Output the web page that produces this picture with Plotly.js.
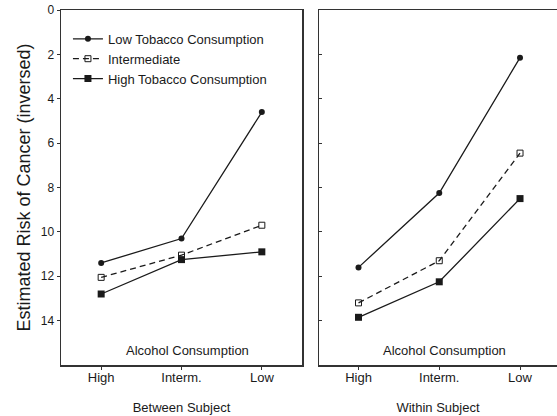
<!DOCTYPE html>
<html>
<head>
<meta charset="utf-8">
<script src="https://cdn.plot.ly/plotly-3.0.1.min.js"></script>
<style>
  html, body { margin: 0; padding: 0; background: #fff; }
  #chart { width: 557px; height: 416px; }
</style>
</head>
<body>
<div id="chart"></div>
<script>
// Alcohol consumption levels on the x axis
const categories = ['High', 'Interm.', 'Low'];

// Between-subject estimates (inverted risk scale)
const betweenLowTobacco = [11.4, 10.3, 4.6];
const betweenMidTobacco = [12.05, 11.05, 9.7];
const betweenHighTobacco = [12.8, 11.25, 10.9];

// Within-subject estimates
const withinLowTobacco = [11.6, 8.25, 2.15];
const withinMidTobacco = [13.2, 11.3, 6.45];
const withinHighTobacco = [13.85, 12.25, 8.5];

const seriesNames = ['Low Tobacco Consumption', 'Intermediate', 'High Tobacco Consumption'];
const yTickValues = [0, 2, 4, 6, 8, 10, 12, 14];
const panelTitles = ['Between Subject', 'Within Subject'];
const innerLabel = 'Alcohol Consumption';
const yTitle = 'Estimated Risk of Cancer (inversed)';

const FONT = 'Liberation Sans, Arial, sans-serif';
const INK = '#1a1a1a';
const AXIS = '#333333';

const styles = [
  { line: { color: INK, width: 1.3 }, marker: { symbol: 'circle', size: 6, color: INK } },
  { line: { color: INK, width: 1.3, dash: '6px,4px' },
    marker: { symbol: 'square-open', size: 6, color: INK, line: { width: 1, color: INK } } },
  { line: { color: INK, width: 1.3 }, marker: { symbol: 'square', size: 7, color: INK } }
];

function makeTraces(values, xa, ya, showLegend) {
  return values.map((v, i) => ({
    type: 'scatter', mode: 'lines+markers',
    x: categories, y: v, xaxis: xa, yaxis: ya,
    name: seriesNames[i], showlegend: showLegend,
    line: styles[i].line, marker: styles[i].marker,
    hoverinfo: 'skip'
  }));
}

const data = [
  ...makeTraces([betweenLowTobacco, betweenMidTobacco, betweenHighTobacco], 'x', 'y', true),
  ...makeTraces([withinLowTobacco, withinMidTobacco, withinHighTobacco], 'x2', 'y2', false)
];

const leftDomain = [0, 0.4859];
const rightDomain = [0.5202, 1];
const leftRange = [-0.5, 2.5];
const rightRange = [-0.489, 2.458];
const yRange = [16, 0];

const tickFont = { family: FONT, size: 13, color: INK };
const numFont = { family: FONT, size: 12, color: INK };

function bottomAxis(domain, range, title, anchor) {
  return {
    domain: domain, range: range, anchor: anchor,
    type: 'category', categoryorder: 'array', categoryarray: categories,
    showline: true, linecolor: AXIS, linewidth: 1.5, mirror: true,
    ticks: 'outside', ticklen: 3, tickwidth: 1, tickcolor: AXIS,
    ticklabelstandoff: -3,
    showgrid: false, zeroline: false,
    tickfont: tickFont,
    title: { text: title, font: { family: FONT, size: 13, color: INK }, standoff: 19 }
  };
}

function topAxis(overlay, range, anchor) {
  return {
    overlaying: overlay, side: 'top', anchor: anchor, range: range,
    type: 'category', categoryorder: 'array', categoryarray: categories,
    ticks: 'inside', ticklen: 3, tickwidth: 1, tickcolor: AXIS,
    showticklabels: false, showgrid: false, zeroline: false, showline: false
  };
}

const layout = {
  width: 557, height: 416,
  margin: { l: 61, r: 0, t: 10, b: 51 },
  paper_bgcolor: '#fff', plot_bgcolor: '#fff',
  font: { family: FONT, color: INK },
  showlegend: true,
  legend: {
    x: 0.014, y: 0.961, xanchor: 'left', yanchor: 'top',
    bgcolor: 'rgba(0,0,0,0)', borderwidth: 0,
    font: { family: FONT, size: 13, color: INK },
    tracegroupgap: 0
  },
  xaxis: bottomAxis(leftDomain, leftRange, panelTitles[0], 'y'),
  xaxis2: bottomAxis(rightDomain, rightRange, panelTitles[1], 'y2'),
  xaxis3: topAxis('x', leftRange, 'y'),
  xaxis4: topAxis('x2', rightRange, 'y2'),
  yaxis: {
    anchor: 'x', range: yRange, tickvals: yTickValues,
    showline: true, linecolor: AXIS, linewidth: 1.5, mirror: true,
    ticks: 'outside', ticklen: 3, tickwidth: 1, tickcolor: AXIS,
    showgrid: false, zeroline: false, tickfont: numFont,
    title: { text: yTitle, font: { family: FONT, size: 18, color: INK }, standoff: 5 }
  },
  yaxis3: {
    overlaying: 'y', side: 'right', anchor: 'x', range: yRange, tickvals: yTickValues,
    ticks: 'inside', ticklen: 3, tickwidth: 1, tickcolor: AXIS,
    showticklabels: false, showgrid: false, zeroline: false, showline: false
  },
  yaxis2: {
    anchor: 'x2', range: yRange, tickvals: yTickValues,
    showline: true, linecolor: AXIS, linewidth: 1.5, mirror: false,
    ticks: 'inside', ticklen: 3, tickwidth: 1, tickcolor: AXIS,
    showticklabels: false, showgrid: false, zeroline: false
  },
  annotations: [
    { xref: 'x', yref: 'y', x: 1.07, y: 15.35, text: innerLabel, showarrow: false,
      xanchor: 'center', yanchor: 'middle', font: { family: FONT, size: 13, color: INK } },
    { xref: 'x2', yref: 'y2', x: 1.07, y: 15.35, text: innerLabel, showarrow: false,
      xanchor: 'center', yanchor: 'middle', font: { family: FONT, size: 13, color: INK } }
  ]
};

Plotly.newPlot('chart', data, layout, { staticPlot: true, displayModeBar: false });
</script>
</body>
</html>
